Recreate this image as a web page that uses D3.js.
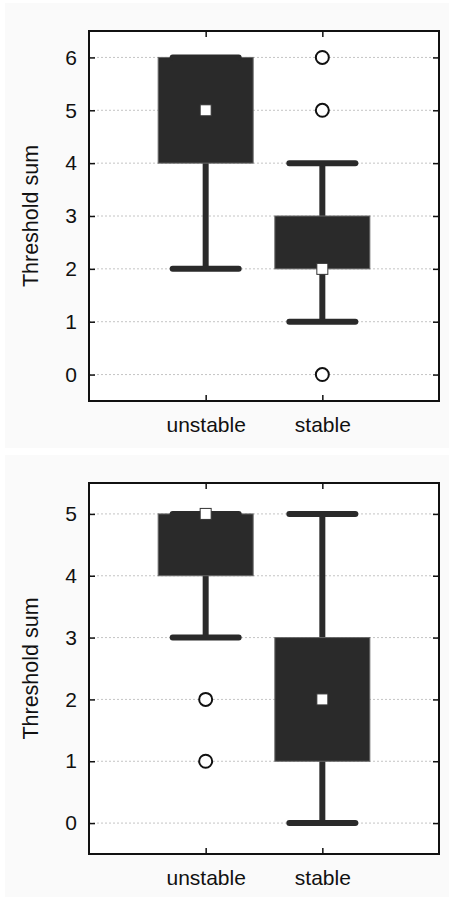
<!DOCTYPE html>
<html>
<head>
<meta charset="utf-8">
<script src="https://cdnjs.cloudflare.com/ajax/libs/d3/7.8.5/d3.min.js"></script>
<style>
  body { margin: 0; background: #fff; }
  text { font-family: Arial, "Liberation Sans", sans-serif; fill: #111; }
</style>
</head>
<body>
<svg id="chart" width="454" height="899"></svg>
<script>
// Groups on the x axis
var categories = ["unstable", "stable"];

// Top panel
var topTicks = [0, 1, 2, 3, 4, 5, 6];
var topQ1 = [4, 2],
    topQ3 = [6, 3],
    topMedian = [5, 2],
    topLow = [2, 1],
    topHigh = [6, 4],
    topOutliers = [[], [6, 5, 0]];

// Bottom panel
var bottomTicks = [0, 1, 2, 3, 4, 5];
var bottomQ1 = [4, 1],
    bottomQ3 = [5, 3],
    bottomMedian = [5, 2],
    bottomLow = [3, 0],
    bottomHigh = [5, 5],
    bottomOutliers = [[2, 1], []];

var svg = d3.select("#chart");
var dark = "#2a2a2a";

function drawPanel(cfg) {
  var g = svg.append("g");
  var left = 89, right = 439;

  // panel background
  g.append("rect")
    .attr("x", 5).attr("y", cfg.bgTop)
    .attr("width", 444).attr("height", cfg.bgHeight)
    .attr("fill", "#fafafa");
  g.append("rect")
    .attr("x", left).attr("y", cfg.top)
    .attr("width", right - left).attr("height", cfg.bottom - cfg.top)
    .attr("fill", "#fff");

  var x = d3.scaleLinear().domain([0, 3]).range([left, right]);
  var y = d3.scaleLinear().domain(cfg.domain).range([cfg.bottom, cfg.top]);

  // dotted grid
  g.selectAll(".grid")
    .data(cfg.ticks)
    .enter().append("line")
      .attr("x1", left).attr("x2", right)
      .attr("y1", function(d) { return y(d); })
      .attr("y2", function(d) { return y(d); })
      .attr("stroke", "#c4c4c4")
      .attr("stroke-width", 1)
      .attr("stroke-dasharray", "2,2");

  var boxes = categories.map(function(c, i) {
    return {name: c, pos: i + 1, q1: cfg.q1[i], q3: cfg.q3[i],
            median: cfg.median[i], low: cfg.low[i], high: cfg.high[i],
            outliers: cfg.outliers[i]};
  });

  // whiskers
  g.selectAll(".whisker")
    .data(boxes)
    .enter().append("line")
      .attr("x1", function(d) { return x(d.pos); })
      .attr("x2", function(d) { return x(d.pos); })
      .attr("y1", function(d) { return y(d.low); })
      .attr("y2", function(d) { return y(d.high); })
      .attr("stroke", dark)
      .attr("stroke-width", 6);

  // boxes
  g.selectAll(".box")
    .data(boxes)
    .enter().append("rect")
      .attr("x", function(d) { return x(d.pos) - 47.5; })
      .attr("width", 95)
      .attr("y", function(d) { return y(d.q3); })
      .attr("height", function(d) { return y(d.q1) - y(d.q3); })
      .attr("fill", dark)
      .attr("stroke", "#666")
      .attr("stroke-width", 1);

  // whisker caps
  boxes.forEach(function(d) {
    [d.low, d.high].forEach(function(v) {
      g.append("line")
        .attr("x1", x(d.pos) - 33).attr("x2", x(d.pos) + 33)
        .attr("y1", y(v)).attr("y2", y(v))
        .attr("stroke", dark)
        .attr("stroke-width", 6)
        .attr("stroke-linecap", "round");
    });
  });

  // medians
  g.selectAll(".median")
    .data(boxes)
    .enter().append("rect")
      .attr("x", function(d) { return x(d.pos) - 5.5; })
      .attr("y", function(d) { return y(d.median) - 5.5; })
      .attr("width", 11).attr("height", 11)
      .attr("fill", "#fff")
      .attr("stroke", "#333")
      .attr("stroke-width", 1);

  // outliers
  boxes.forEach(function(d) {
    g.selectAll(null)
      .data(d.outliers)
      .enter().append("circle")
        .attr("cx", x(d.pos))
        .attr("cy", function(v) { return y(v); })
        .attr("r", 6.5)
        .attr("fill", "#fff")
        .attr("stroke", "#111")
        .attr("stroke-width", 2);
  });

  // frame
  g.append("rect")
    .attr("x", left).attr("y", cfg.top)
    .attr("width", right - left).attr("height", cfg.bottom - cfg.top)
    .attr("fill", "none")
    .attr("stroke", "#111")
    .attr("stroke-width", 2);

  // y axis ticks and labels (inward ticks on both sides)
  var yAxis = d3.axisLeft(y).tickValues(cfg.ticks).tickFormat(d3.format("d"))
    .tickSizeInner(-6).tickSizeOuter(0).tickPadding(12);
  var ya = g.append("g").attr("transform", "translate(" + left + ",0)").call(yAxis);
  ya.select(".domain").remove();
  ya.selectAll("line").attr("stroke", "#111").attr("stroke-width", 1.5);
  ya.selectAll("text").attr("font-size", "21px").attr("font-family", "Arial, 'Liberation Sans', sans-serif").attr("fill", "#111");

  var yRight = g.append("g").attr("transform", "translate(" + right + ",0)")
    .call(d3.axisRight(y).tickValues(cfg.ticks).tickSizeInner(-6).tickSizeOuter(0).tickFormat(""));
  yRight.select(".domain").remove();
  yRight.selectAll("line").attr("stroke", "#111").attr("stroke-width", 1.5);

  // x axis
  var xAxis = d3.axisBottom(x).tickValues([1, 2])
    .tickFormat(function(d) { return categories[d - 1]; })
    .tickSizeInner(-6).tickSizeOuter(0).tickPadding(16);
  var xa = g.append("g").attr("transform", "translate(0," + cfg.bottom + ")").call(xAxis);
  xa.select(".domain").remove();
  xa.selectAll("line").attr("stroke", "#111").attr("stroke-width", 1.5);
  xa.selectAll("text").attr("font-size", "21px").attr("font-family", "Arial, 'Liberation Sans', sans-serif").attr("fill", "#111");

  var xTop = g.append("g").attr("transform", "translate(0," + cfg.top + ")")
    .call(d3.axisTop(x).tickValues([1, 2]).tickSizeInner(-6).tickSizeOuter(0).tickFormat(""));
  xTop.select(".domain").remove();
  xTop.selectAll("line").attr("stroke", "#111").attr("stroke-width", 1.5);

  // y label
  g.append("text")
    .attr("transform", "translate(38," + ((cfg.top + cfg.bottom) / 2) + ") rotate(-90)")
    .attr("text-anchor", "middle")
    .attr("font-size", "21.5px")
    .text("Threshold sum");
}

drawPanel({
  bgTop: 3, bgHeight: 445,
  top: 31, bottom: 401, domain: [-0.5, 6.5], ticks: topTicks,
  q1: topQ1, q3: topQ3, median: topMedian, low: topLow, high: topHigh, outliers: topOutliers
});

drawPanel({
  bgTop: 455, bgHeight: 442,
  top: 483, bottom: 854, domain: [-0.5, 5.5], ticks: bottomTicks,
  q1: bottomQ1, q3: bottomQ3, median: bottomMedian, low: bottomLow, high: bottomHigh, outliers: bottomOutliers
});
</script>
</body>
</html>
